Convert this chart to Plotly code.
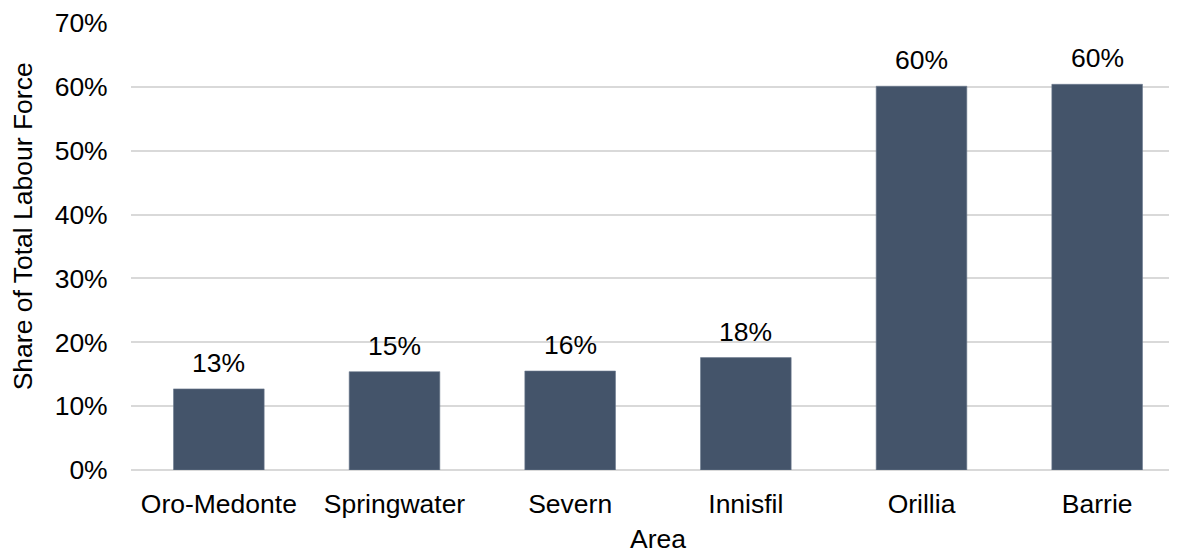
import plotly.graph_objects as go

areas = ["Oro-Medonte", "Springwater", "Severn", "Innisfil", "Orillia", "Barrie"]
share = [0.127, 0.154, 0.155, 0.176, 0.601, 0.604]
y_ticks = [0, 0.1, 0.2, 0.3, 0.4, 0.5, 0.6, 0.7]
y_tick_labels = ["0%", "10%", "20%", "30%", "40%", "50%", "60%", "70%"]

FONT = "Liberation Sans, Arial, sans-serif"
FS = 26.5
BAR = "#44546A"
GRID = "#D9D9D9"

fig = go.Figure()
fig.add_trace(go.Bar(
    x=areas, y=share,
    marker=dict(color=BAR, line=dict(color="#6B7A8E", width=0.6)),
    hoverinfo="skip",
))

for a, v in zip(areas, share):
    fig.add_annotation(
        x=a, y=v, text=f"{round(v * 100):.0f}%",
        showarrow=False, yanchor="bottom", yshift=9,
        font=dict(family=FONT, size=FS, color="#000000"),
    )

# y-axis title placed as annotation (Excel-like position)
fig.add_annotation(
    xref="paper", yref="paper", x=-0.1025, y=0.545,
    text="Share of Total Labour Force", textangle=-90,
    showarrow=False, xanchor="center", yanchor="middle",
    font=dict(family=FONT, size=FS, color="#000000"),
)

fig.update_layout(
    width=1177, height=554,
    margin=dict(l=123, r=0, t=15, b=92),
    plot_bgcolor="white", paper_bgcolor="white",
    bargap=0.484,
    showlegend=False,
    font=dict(family=FONT, size=FS, color="#000000"),
)
fig.update_xaxes(
    type="category", range=[-0.5, 5.5],
    showgrid=False, showline=False, zeroline=False,
    ticks="outside", ticklen=10, tickcolor="rgba(0,0,0,0)",
    tickfont=dict(family=FONT, size=FS, color="#000000"),
    title=dict(text="Area", standoff=11, font=dict(family=FONT, size=FS, color="#000000")),
)
fig.update_yaxes(
    range=[0, 0.7], tickvals=y_ticks, ticktext=y_tick_labels,
    showgrid=True, gridcolor=GRID, gridwidth=1.5,
    zeroline=True, zerolinecolor=GRID, zerolinewidth=1.5,
    showline=False,
    ticks="outside", ticklen=17, tickcolor="rgba(0,0,0,0)",
    tickfont=dict(family=FONT, size=FS, color="#000000"),
)

fig.write_html("out.html")
